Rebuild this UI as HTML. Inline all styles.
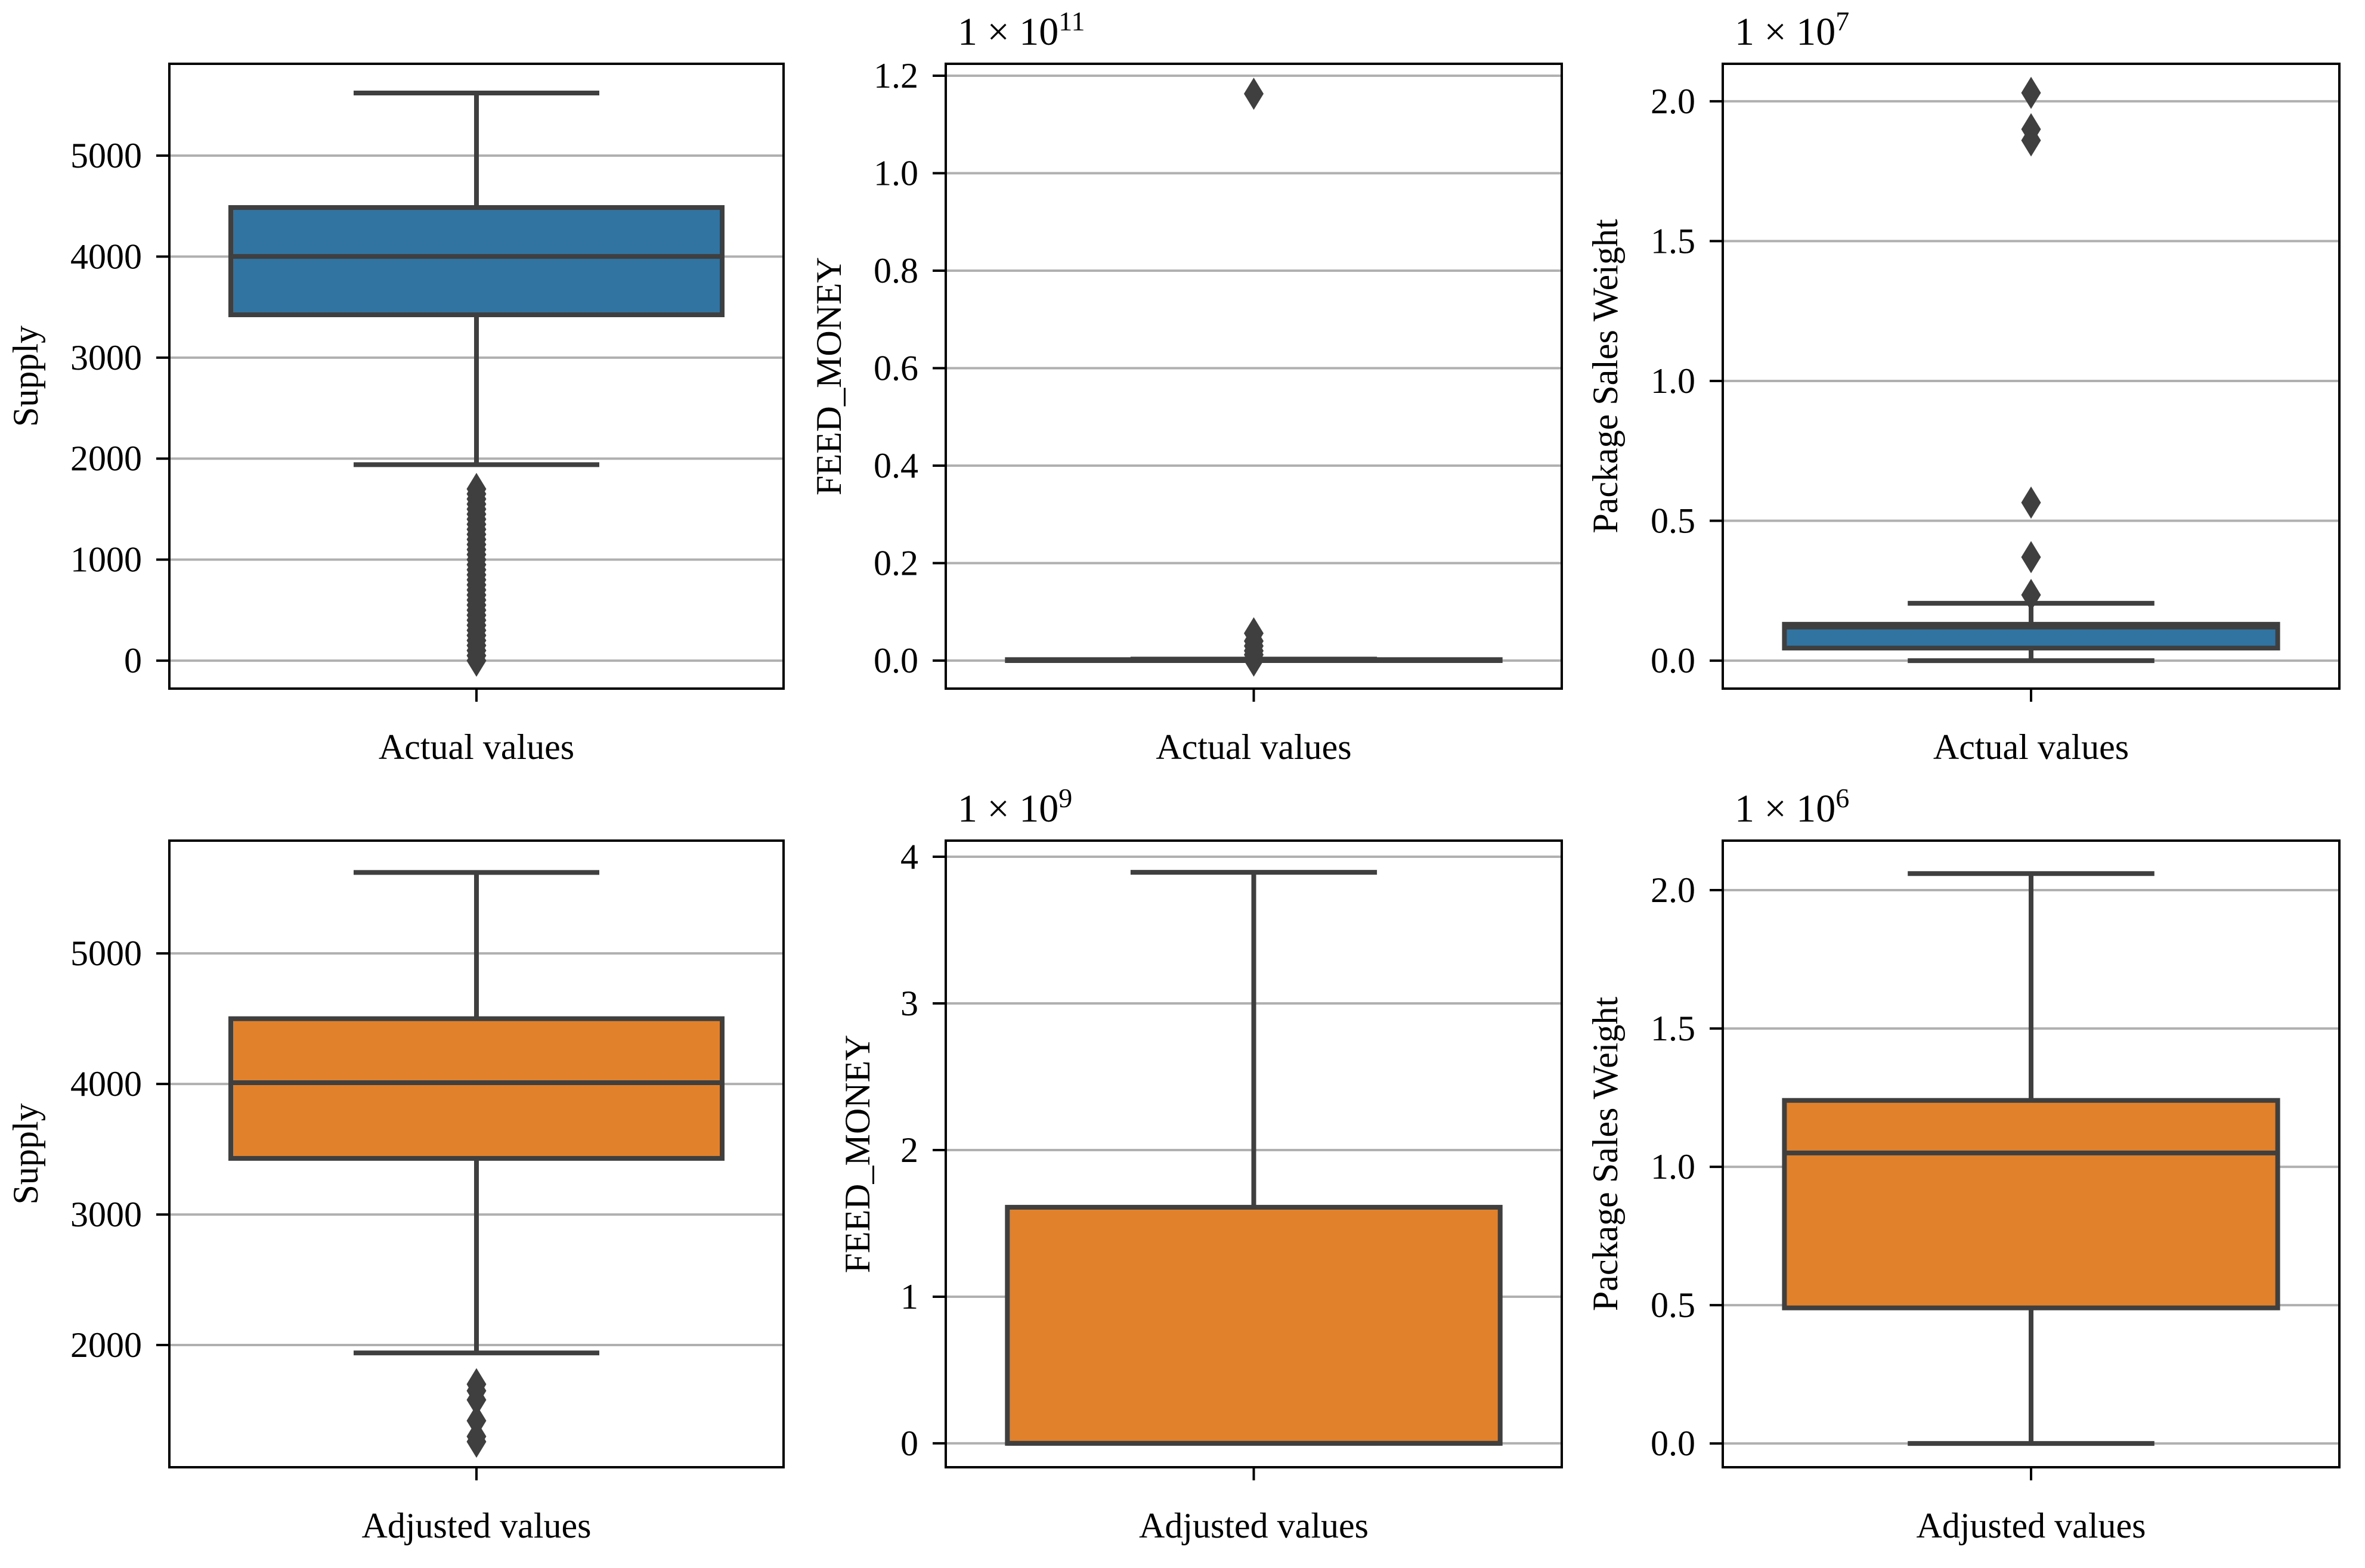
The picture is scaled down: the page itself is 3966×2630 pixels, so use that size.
<!DOCTYPE html>
<html><head><meta charset="utf-8"><style>
html,body{margin:0;padding:0;background:#fff;}
svg{display:block;font-family:"Liberation Serif","DejaVu Serif",serif;}
</style></head><body>
<svg id="fig" xmlns="http://www.w3.org/2000/svg" width="3966" height="2630" viewBox="0 0 3966 2630"></svg>
<script>
// ---- data (one set per panel) ----
const panelNames = ["supply-actual","feed-money-actual","package-weight-actual","supply-adjusted","feed-money-adjusted","package-weight-adjusted"];
const yLabels = ["Supply","FEED_MONEY","Package Sales Weight","Supply","FEED_MONEY","Package Sales Weight"];
const xLabels = ["Actual values","Actual values","Actual values","Adjusted values","Adjusted values","Adjusted values"];
const offsetExp = ["", "11", "7", "", "9", "6"];
const yMins = [-277, -0.0575, -0.1, 1064, -0.163, -0.086];
const yMaxs = [5909, 1.2245, 2.134, 5864, 4.11, 2.179];
const tickSets = [
  [0,1000,2000,3000,4000,5000],
  [0,0.2,0.4,0.6,0.8,1.0,1.2],
  [0,0.5,1.0,1.5,2.0],
  [2000,3000,4000,5000],
  [0,1,2,3,4],
  [0,0.5,1.0,1.5,2.0]
];
const tickLabelSets = [
  ["0","1000","2000","3000","4000","5000"],
  ["0.0","0.2","0.4","0.6","0.8","1.0","1.2"],
  ["0.0","0.5","1.0","1.5","2.0"],
  ["2000","3000","4000","5000"],
  ["0","1","2","3","4"],
  ["0.0","0.5","1.0","1.5","2.0"]
];
const whiskerLows = [1940, 0, 0, 1940, 0, 0];
const q1s = [3424, 0, 0.045, 3430, 0, 0.49];
const medians = [4002, 0.001, 0.12, 4010, 0, 1.05];
const q3s = [4486, 0.002, 0.13, 4500, 1.61, 1.24];
const whiskerHighs = [5620, 0.003, 0.205, 5620, 3.894, 2.06];
const outliers0 = [1700,1650,1600,1550,1500,1450,1400,1350,1300,1250,1200,1150,1100,1050,1000,950,900,850,800,750,700,650,600,550,500,450,400,350,300,250,200,150,100,50,0];
const outliers1 = [1.163,0.056,0.04,0.03,0.02,0.012,0.005,0.0];
const outliers2 = [2.03,1.9,1.86,0.565,0.37,0.235];
const outliers3 = [1700,1650,1580,1420,1300,1260];
const outliers4 = [];
const outliers5 = [];
const outlierSets = [outliers0,outliers1,outliers2,outliers3,outliers4,outliers5];
const boxColors = ["#3274a1","#3274a1","#3274a1","#e1812c","#e1812c","#e1812c"];

// ---- layout ----
const colX = [[284,1314],[1586,2619],[2889,3923]];
const rowY = [[107,1155],[1410,2461]];
const ylabelX = [[63,1410,2712],[63,1458,2712]];
const NS = "http://www.w3.org/2000/svg";
const svg = document.getElementById("fig");
function mk(tag, attrs, parent){
  const e = document.createElementNS(NS, tag);
  for (const k in attrs) e.setAttribute(k, attrs[k]);
  (parent||svg).appendChild(e);
  return e;
}
const LINE = "#3f3f3f";

for (let p = 0; p < 6; p++){
  const r = Math.floor(p/3), c = p%3;
  const L = colX[c][0], R = colX[c][1], T = rowY[r][0], B = rowY[r][1];
  const W = R - L, cx = (L+R)/2;
  const y = v => B - (v - yMins[p]) / (yMaxs[p] - yMins[p]) * (B - T);
  const g = mk("g", {});
  
  

  tickSets[p].forEach((t,i) => {
    const yy = y(t);
    const gl = mk("line", {x1:L, x2:R, y1:yy, y2:yy, stroke:"#b0b0b0", "stroke-width":4}, g);
    
    
    const tk = mk("line", {x1:L-22, x2:L, y1:yy, y2:yy, stroke:"#000", "stroke-width":4}, g);
    
    
    const tl = mk("text", {x:L-46, y:yy+20, "text-anchor":"end", "font-size":60, fill:"#000"}, g);
    tl.textContent = tickLabelSets[p][i];
    
    
  });

  const wl = mk("line", {x1:cx, x2:cx, y1:y(whiskerLows[p]), y2:y(q1s[p]), stroke:LINE, "stroke-width":8}, g);
  
  
  const wh = mk("line", {x1:cx, x2:cx, y1:y(whiskerHighs[p]), y2:y(q3s[p]), stroke:LINE, "stroke-width":8}, g);
  
  
  const cl = mk("line", {x1:cx-0.2*W, x2:cx+0.2*W, y1:y(whiskerLows[p]), y2:y(whiskerLows[p]), stroke:LINE, "stroke-width":8}, g);
  
  
  const ch = mk("line", {x1:cx-0.2*W, x2:cx+0.2*W, y1:y(whiskerHighs[p]), y2:y(whiskerHighs[p]), stroke:LINE, "stroke-width":8}, g);
  
  

  const bt = y(q3s[p]), bb = y(q1s[p]);
  const box = mk("rect", {x:cx-0.4*W, y:bt, width:0.8*W, height:Math.max(bb-bt,0.5), fill:boxColors[p], stroke:LINE, "stroke-width":8}, g);
  
  
  const md = mk("line", {x1:cx-0.4*W, x2:cx+0.4*W, y1:y(medians[p]), y2:y(medians[p]), stroke:LINE, "stroke-width":8}, g);
  
  

  outlierSets[p].forEach(v => {
    const yy = y(v);
    const d = mk("polygon", {points:`${cx},${yy-27} ${cx+16.5},${yy} ${cx},${yy+27} ${cx-16.5},${yy}`, fill:LINE}, g);
    
    
  });

  const fr = mk("rect", {x:L, y:T, width:W, height:B-T, fill:"none", stroke:"#000", "stroke-width":4}, g);
  
  
  const xt = mk("line", {x1:cx, x2:cx, y1:B, y2:B+22, stroke:"#000", "stroke-width":4}, g);
  
  
  const xl = mk("text", {x:cx, y:B+118, "text-anchor":"middle", "font-size":60, fill:"#000"}, g);
  xl.textContent = xLabels[p];
  
  
  const lx = ylabelX[r][c], ly = (T+B)/2;
  const yl = mk("text", {x:lx, y:ly, "text-anchor":"middle", "font-size":60, fill:"#000", transform:`rotate(-90 ${lx} ${ly})`}, g);
  yl.textContent = yLabels[p];
  
  

  if (offsetExp[p]){
    const ot = mk("text", {x:L+20, y:T-32, "font-size":66, fill:"#000"}, g);
    ot.textContent = "1 × 10";
    const sup = mk("tspan", {dy:-24, "font-size":46}, ot);
    sup.textContent = offsetExp[p];
    
    
  }
}
</script>
</body></html>
